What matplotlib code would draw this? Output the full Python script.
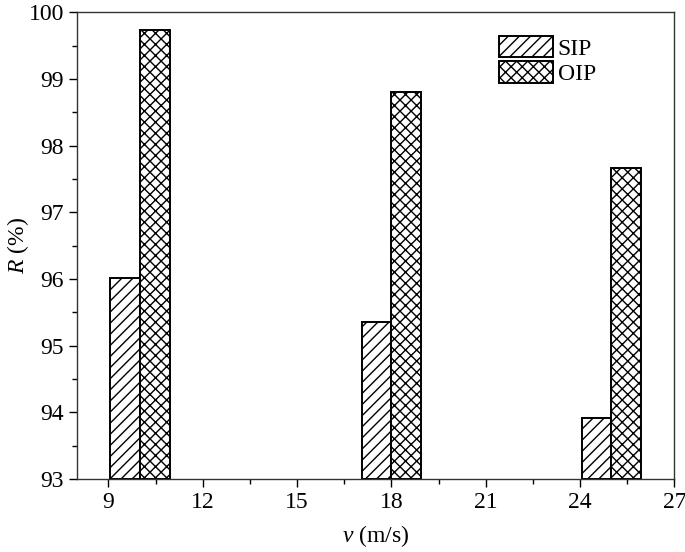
import numpy as np
import matplotlib
matplotlib.use("Agg")
import matplotlib.pyplot as plt
from matplotlib.ticker import MultipleLocator

plt.rcParams['font.family'] = ['Liberation Serif', 'DejaVu Serif']
plt.rcParams['mathtext.fontset'] = 'custom'
plt.rcParams['mathtext.rm'] = 'Liberation Serif'
plt.rcParams['mathtext.it'] = 'Liberation Serif:italic'
plt.rcParams['hatch.linewidth'] = 1.0

speeds = [10, 18, 25]
sip = [96.02, 95.36, 93.92]
oip = [99.73, 98.80, 97.67]

width = 0.95
x = np.array(speeds, dtype=float)

fig = plt.figure(figsize=(6.85, 5.52), dpi=100)
ax = fig.add_axes([0.1124, 0.132, 0.872, 0.846])

ax.bar(x - width / 2, np.array(sip) - 93, width, bottom=93, color="white",
       edgecolor="black", linewidth=1.4, hatch="///", label="SIP")
ax.bar(x + width / 2, np.array(oip) - 93, width, bottom=93, color="white",
       edgecolor="black", linewidth=1.4, hatch="xxx", label="OIP")

ax.set_xlim(8, 27)
ax.set_ylim(93, 100)
ax.xaxis.set_major_locator(MultipleLocator(3))
ax.xaxis.set_minor_locator(MultipleLocator(1.5))
ax.yaxis.set_major_locator(MultipleLocator(1))
ax.yaxis.set_minor_locator(MultipleLocator(0.5))
ax.tick_params(which="major", direction="out", length=6, width=1, labelsize=17)
ax.tick_params(which="minor", direction="out", length=3.5, width=1)
for sp in ax.spines.values():
    sp.set_linewidth(1)
    sp.set_color("#333333")

ax.set_xlabel(r"$v$ (m/s)", fontsize=17, labelpad=7)
ax.set_ylabel(r"$R$ (%)", fontsize=17, labelpad=-2)

ax.legend(loc="upper left", bbox_to_anchor=(0.69, 0.97), frameon=False,
          fontsize=17, handlelength=2.3, handleheight=1.05,
          handletextpad=0.2, labelspacing=0.05, borderaxespad=0)

fig.savefig("out.png", dpi=100)
